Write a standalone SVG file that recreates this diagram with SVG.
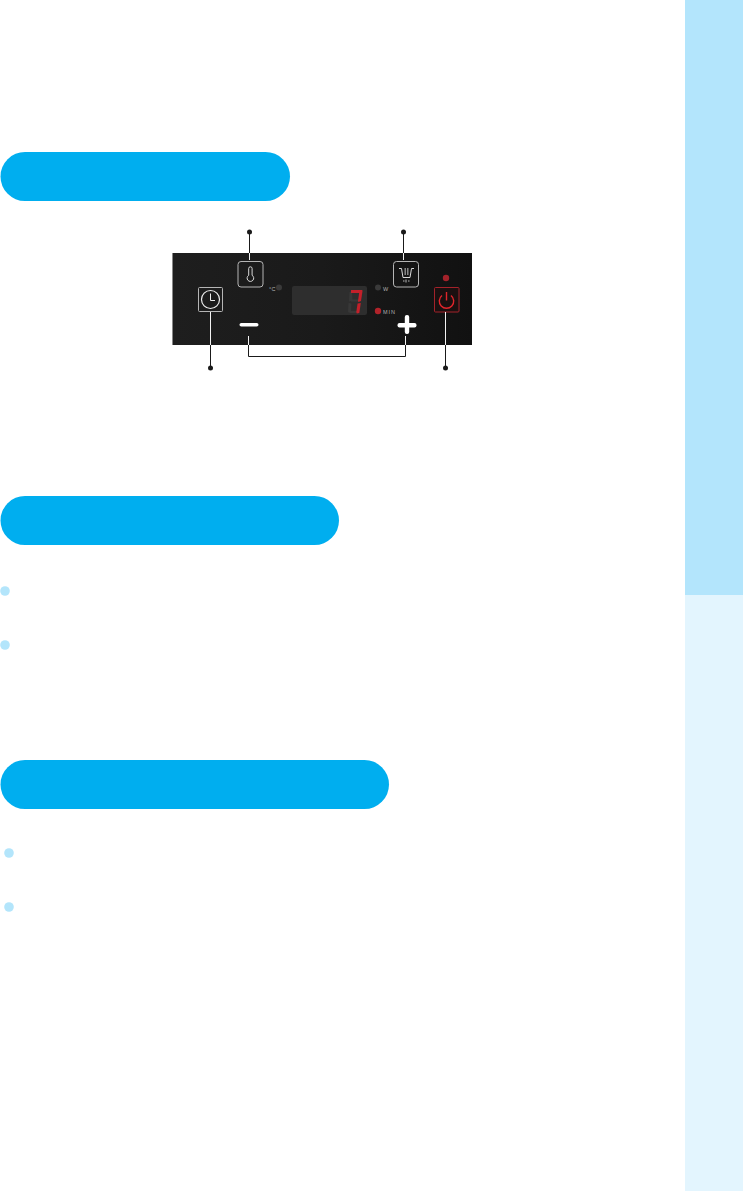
<svg xmlns="http://www.w3.org/2000/svg" width="743" height="1191" viewBox="0 0 743 1191">
<defs>
<style>
.pill{fill:#00aeef}
.bullet{fill:#b3e5fb}
.lead{fill:none;stroke:#1a1a1a;stroke-width:1}
.leadw{fill:none;stroke:#f2f2f2;stroke-width:1}
.dot{fill:#1a1a1a}
.key{fill:none;stroke:#b5b5b5;stroke-width:1}
.ic{fill:none;stroke:#d8d8d8;stroke-width:1}
.seg{fill:#c4202a}
.segoff{fill:#383838}
.lbl{font-family:"Liberation Sans",Arial,sans-serif;font-size:5.500px;fill:#b0b0b0;letter-spacing:.9px}
</style>
<linearGradient id="pg" x1="0" y1="0" x2="1" y2="0"><stop offset="0" stop-color="#1e1e1e"/><stop offset=".5" stop-color="#1a1a1a"/><stop offset="1" stop-color="#111"/></linearGradient>
</defs>
<rect width="743" height="1191" fill="#fff"/>
<rect id="side-dark" x="685" y="0" width="58" height="595" fill="#b3e5fc"/>
<rect id="side-light" x="685" y="595" width="58" height="596" fill="#e3f5fe"/>
<rect id="pill-1" class="pill" x="0.500" y="152" width="289.500" height="49" rx="24.500"/>
<rect id="pill-2" class="pill" x="0.500" y="496" width="338.500" height="49" rx="24.500"/>
<rect id="pill-3" class="pill" x="0.500" y="760" width="388.500" height="49" rx="24.500"/>
<circle id="bullet-1" class="bullet" cx="5" cy="591" r="4.800"/>
<circle id="bullet-2" class="bullet" cx="5" cy="645" r="4.800"/>
<circle id="bullet-3" class="bullet" cx="9" cy="853" r="4.800"/>
<circle id="bullet-4" class="bullet" cx="9" cy="907" r="4.800"/>
<g id="panel">
<rect x="172" y="253" width="300" height="92" fill="url(#pg)"/>
<rect x="172" y="253" width="1" height="92" fill="#888"/>
</g>
<g id="display">
<rect x="292" y="286" width="75" height="29" rx="2" fill="#2e2e2e"/>
<path class="segoff" d="M349.500 292l2.500-1 .5 9.500-3.500 1zM348.500 303l3 .5-.5 8-3 1zM351 299.500h8v2h-8zM349.500 311h8v2h-8z"/>
<path class="seg" d="M351 290h11.500l-1 3h-10.500z"/>
<path class="seg" d="M362.500 291l-1.500 10-2.500 1-.5-1 1.300-9z"/>
<path class="seg" d="M360.800 303l-1.500 10-2.500.5-.5-1.500 1.300-8.500z"/>
</g>
<g id="key-temp">
<rect class="key" x="238" y="261.500" width="25" height="25.500" rx="3"/>
<path class="ic" d="M248.700 268.500a1.700 1.700 0 0 1 3.400 0v6.800a3.300 3.300 0 1 1-3.400 0z"/>
</g>
<g id="ind-c">
<text class="lbl" x="269" y="290.500" style="letter-spacing:.3px">°C</text>
<circle cx="279" cy="287.500" r="3" fill="#3a3a3a"/>
</g>
<g id="key-timer">
<rect class="key" x="198.500" y="287.500" width="24" height="24" rx="1"/>
<circle cx="210.500" cy="299.500" r="9" fill="none" stroke="#eee" stroke-width="1.200"/>
<path d="M210.500 293.500v7h4.500" fill="none" stroke="#eee" stroke-width="1"/>
</g>
<g id="key-minus">
<rect x="239.500" y="323" width="19" height="3.600" rx="1.800" fill="#fff"/>
</g>
<g id="key-plus">
<rect x="397.500" y="323" width="19" height="4.400" rx="2" fill="#fff"/>
<rect x="404.800" y="315" width="4.400" height="19" rx="2" fill="#fff"/>
</g>
<g id="key-power">
<rect x="434.500" y="287.500" width="24.500" height="24.500" rx="1" fill="#1a1010" stroke="#a3222a" stroke-width="1"/>
<path d="M442 295.500a7.200 7.200 0 1 0 9 0" fill="none" stroke="#e1252b" stroke-width="1.400"/>
<path d="M446.500 292v8.500" stroke="#e1252b" stroke-width="1.400"/>
<circle cx="446" cy="278" r="3.200" fill="#a3222a"/>
</g>
<g id="key-mode">
<rect class="key" x="393.500" y="261.500" width="25" height="25.500" rx="3"/>
<path class="ic" d="M399 268.500h2.500l1.500 9h7l1.500-9h2.500"/>
<path d="M405.200 268v7M407.800 268v7" stroke="#999" stroke-width="1.300"/>
<path d="M403 281h1.500M408 281h1.500M406 279.500v3" stroke="#bbb" stroke-width="1"/>
</g>
<g id="ind-w">
<circle cx="378" cy="287.500" r="3" fill="#3a3a3a"/>
<text class="lbl" x="383" y="290.500">W</text>
</g>
<g id="ind-min">
<circle cx="378" cy="311" r="3.200" fill="#b1232a"/>
<text class="lbl" x="383" y="313.500">MIN</text>
</g>
<g id="connectors">
<path class="lead" d="M249.500 232V253"/>
<path class="leadw" d="M249.500 253v7"/>
<circle class="dot" cx="249.500" cy="232" r="2.500"/>
<path class="lead" d="M403.500 232V253"/>
<path class="leadw" d="M403.500 253v7"/>
<circle class="dot" cx="403.500" cy="232" r="2.500"/>
<path class="leadw" d="M210.500 312V345"/>
<path class="lead" d="M210.500 345V368"/>
<circle class="dot" cx="210.500" cy="368" r="2.500"/>
<path class="leadw" d="M445.500 312V345"/>
<path class="lead" d="M445.500 345V368"/>
<circle class="dot" cx="445.500" cy="368" r="2.500"/>
<path class="leadw" d="M248.500 336V345"/>
<path class="leadw" d="M405.500 336V345"/>
<path class="lead" d="M248.500 345V356.500H405.500V345"/>
</g>
</svg>
